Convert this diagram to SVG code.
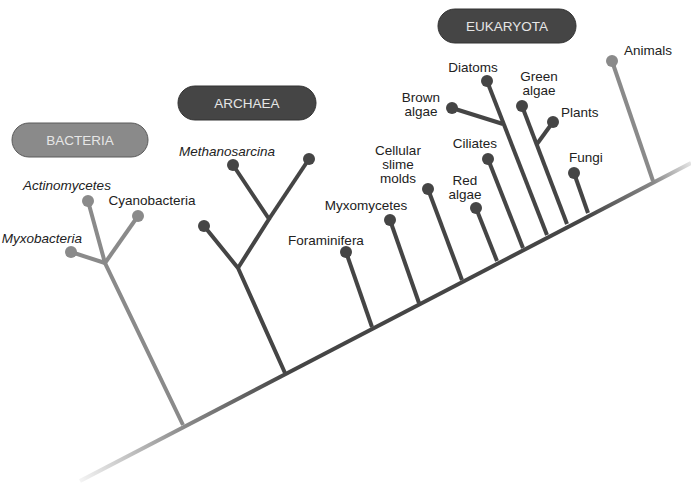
<svg xmlns="http://www.w3.org/2000/svg" width="691" height="483" viewBox="0 0 691 483">
<defs>
<linearGradient id="trunkGrad" gradientUnits="userSpaceOnUse" x1="80" y1="481" x2="691" y2="163">
<stop offset="0" stop-color="#f4f4f4"/>
<stop offset="0.17" stop-color="#8a8a8a"/>
<stop offset="0.34" stop-color="#454545"/>
<stop offset="0.83" stop-color="#454545"/>
<stop offset="0.94" stop-color="#8a8a8a"/>
<stop offset="1" stop-color="#e4e4e4"/>
</linearGradient>
</defs>
<style>
.dk{stroke:#454545;stroke-width:4;fill:none;stroke-linecap:butt}
.lt{stroke:#8a8a8a;stroke-width:4;fill:none}
.dkd{fill:#454545}
.ltd{fill:#8a8a8a}
text{font-family:"Liberation Sans",Arial,sans-serif;font-size:13.5px;fill:#222}
.it{font-style:italic}
.pill text{fill:#e6e6e6;font-size:13.5px}
</style>
<g id="labels-groups">
<g id="bacteria-pill" class="pill"><rect x="12" y="123" width="136" height="34" rx="17" fill="#8a8a8a" stroke="#5a5a5a" stroke-width="1"/><text x="80" y="145" text-anchor="middle">BACTERIA</text></g>
<g id="archaea-pill" class="pill"><rect x="178" y="86" width="138" height="34" rx="17" fill="#454545" stroke="#333" stroke-width="1"/><text x="247" y="108" text-anchor="middle">ARCHAEA</text></g>
<g id="eukaryota-pill" class="pill"><rect x="438" y="9" width="138" height="34" rx="17" fill="#454545" stroke="#333" stroke-width="1"/><text x="507" y="31" text-anchor="middle">EUKARYOTA</text></g>
</g>
<g id="connectors">
<line x1="80" y1="481" x2="691" y2="163" stroke="url(#trunkGrad)" stroke-width="4"/>
<!-- bacteria -->
<polyline class="lt" points="183,425 105,263 88,201"/>
<line class="lt" x1="105" y1="263" x2="71" y2="252"/>
<line class="lt" x1="105" y1="263" x2="138" y2="216"/>
<!-- archaea -->
<polyline class="dk" points="285,373 238,268 204,226"/>
<polyline class="dk" points="238,268 269,219 233,165"/>
<line class="dk" x1="269" y1="219" x2="309" y2="159"/>
<!-- eukaryota -->
<line class="dk" x1="372" y1="327" x2="346" y2="252"/>
<line class="dk" x1="419" y1="303" x2="390" y2="220"/>
<line class="dk" x1="462" y1="280" x2="428" y2="189"/>
<line class="dk" x1="497" y1="261" x2="476" y2="208"/>
<line class="dk" x1="523" y1="248" x2="488" y2="159"/>
<line class="dk" x1="547" y1="235" x2="487" y2="81"/>
<line class="dk" x1="503" y1="124" x2="452" y2="108"/>
<line class="dk" x1="567" y1="224" x2="522" y2="106"/>
<line class="dk" x1="537" y1="144" x2="553" y2="122"/>
<line class="dk" x1="588" y1="213" x2="574" y2="173"/>
<line class="lt" x1="653" y1="181" x2="612" y2="61"/>
</g>
<g id="actinomycetes"><circle class="ltd" cx="88" cy="201" r="6"/><text class="it" x="67" y="190" text-anchor="middle">Actinomycetes</text></g>
<g id="cyanobacteria"><circle class="ltd" cx="138" cy="216" r="6"/><text x="152" y="205" text-anchor="middle">Cyanobacteria</text></g>
<g id="myxobacteria"><circle class="ltd" cx="71" cy="252" r="6"/><text class="it" x="42" y="243" text-anchor="middle">Myxobacteria</text></g>
<g id="methanosarcina"><circle class="dkd" cx="233" cy="165" r="6"/><text class="it" x="227" y="156" text-anchor="middle">Methanosarcina</text></g>
<g id="archaea-right"><circle class="dkd" cx="309" cy="159" r="6"/></g>
<g id="archaea-left"><circle class="dkd" cx="204" cy="226" r="6"/></g>
<g id="foraminifera"><circle class="dkd" cx="346" cy="252" r="6"/><text x="326" y="245" text-anchor="middle">Foraminifera</text></g>
<g id="myxomycetes"><circle class="dkd" cx="390" cy="220" r="6"/><text x="366" y="210" text-anchor="middle">Myxomycetes</text></g>
<g id="cellular-slime-molds"><circle class="dkd" cx="428" cy="189" r="6"/><text x="398" y="155" text-anchor="middle">Cellular</text><text x="398" y="169" text-anchor="middle">slime</text><text x="398" y="183" text-anchor="middle">molds</text></g>
<g id="red-algae"><circle class="dkd" cx="476" cy="208" r="6"/><text x="465" y="185" text-anchor="middle">Red</text><text x="465" y="199" text-anchor="middle">algae</text></g>
<g id="ciliates"><circle class="dkd" cx="488" cy="159" r="6"/><text x="475" y="148" text-anchor="middle">Ciliates</text></g>
<g id="diatoms"><circle class="dkd" cx="487" cy="81" r="6"/><text x="473" y="72" text-anchor="middle">Diatoms</text></g>
<g id="brown-algae"><circle class="dkd" cx="452" cy="108" r="6"/><text x="421" y="102" text-anchor="middle">Brown</text><text x="421" y="116" text-anchor="middle">algae</text></g>
<g id="green-algae"><circle class="dkd" cx="522" cy="106" r="6"/><text x="539" y="81" text-anchor="middle">Green</text><text x="539" y="95" text-anchor="middle">algae</text></g>
<g id="plants"><circle class="dkd" cx="553" cy="122" r="6"/><text x="561" y="117">Plants</text></g>
<g id="fungi"><circle class="dkd" cx="574" cy="173" r="6"/><text x="569" y="162">Fungi</text></g>
<g id="animals"><circle class="ltd" cx="612" cy="61" r="6"/><text x="624" y="55">Animals</text></g>
</svg>
